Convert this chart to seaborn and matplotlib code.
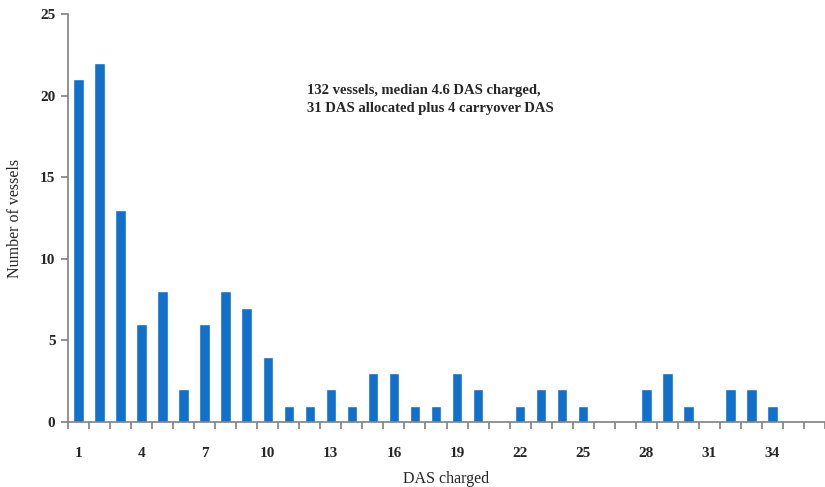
import numpy as np
import matplotlib
matplotlib.use("Agg")
import matplotlib.pyplot as plt
import seaborn as sns

# number of DAS charged per vessel
das_charged = list(range(1, 37))
n_vessels = [21, 22, 13, 6, 8, 2, 6, 8, 7, 4,
             1, 1, 2, 1, 3, 3, 1, 1, 3, 2,
             0, 1, 2, 2, 1, 0, 0, 2, 3, 1,
             0, 2, 2, 1, 0, 0]
tick_labels = [1, 4, 7, 10, 13, 16, 19, 22, 25, 28, 31, 34]
note = "132 vessels, median 4.6 DAS charged,\n31 DAS allocated plus 4 carryover DAS"

sns.set_style("white")
plt.rcParams["font.family"] = ["Liberation Serif", "DejaVu Serif"]

fig = plt.figure(figsize=(8.25, 4.87), dpi=100)
ax = fig.add_axes([68 / 825, 65 / 487, 757 / 825, 408 / 487])

sns.barplot(x=das_charged, y=n_vessels, native_scale=True, width=0.5,
            color="#1170c9", saturation=1, ax=ax)

ax.set_xlim(0.5, 36.4)
ax.set_ylim(0, 25)
ax.set_yticks(range(0, 26, 5))
ax.set_xticks(tick_labels)
ax.set_xticklabels([str(t) for t in tick_labels])
ax.set_xticks(np.arange(0.5, 36.6, 1), minor=True)
ax.tick_params(axis="x", which="major", bottom=False, length=0, pad=18, labelsize=11)
ax.tick_params(axis="x", which="minor", bottom=True, length=5, width=1.2,
               color="#808080", direction="out")
ax.tick_params(axis="y", left=True, length=5, width=1.2, color="#808080",
               direction="out", labelsize=11, pad=4)
for lbl in ax.get_xticklabels() + ax.get_yticklabels():
    lbl.set_fontweight("bold")

sns.despine(ax=ax, top=True, right=True)
for side in ["left", "bottom"]:
    ax.spines[side].set_color("#808080")
    ax.spines[side].set_linewidth(1.2)

ax.set_xlabel("DAS charged", fontsize=11.5, labelpad=8)
ax.set_ylabel("Number of vessels", fontsize=11.5, labelpad=12)

ax.text(0.316, 0.79, note, transform=ax.transAxes, fontsize=10.5,
        fontweight="bold", linespacing=1.5, va="center", ha="left")

fig.savefig("out.png", dpi=100, facecolor="white")
